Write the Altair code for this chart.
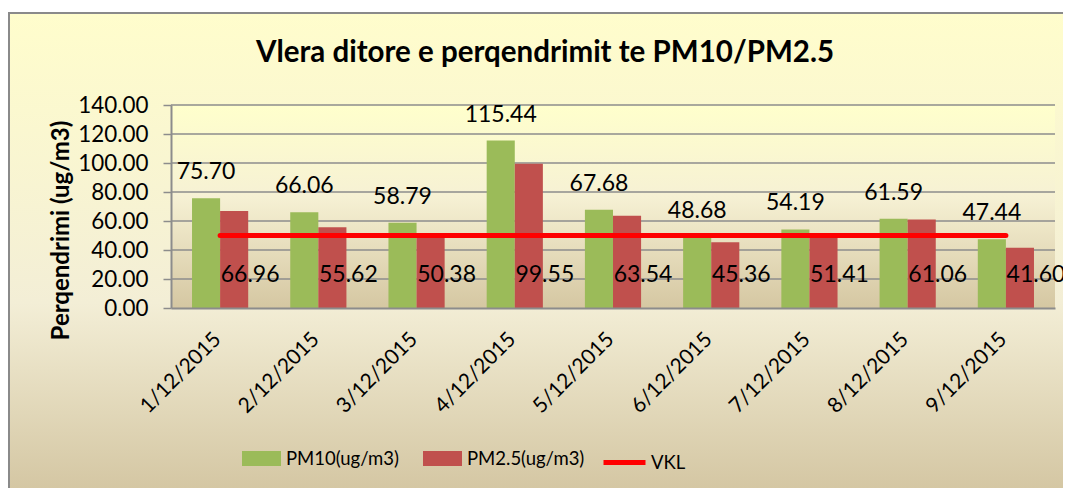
import altair as alt
import pandas as pd

dates = ["1/12/2015", "2/12/2015", "3/12/2015", "4/12/2015", "5/12/2015",
         "6/12/2015", "7/12/2015", "8/12/2015", "9/12/2015"]
pm10 = [75.70, 66.06, 58.79, 115.44, 67.68, 48.68, 54.19, 61.59, 47.44]
pm25 = [66.96, 55.62, 50.38, 99.55, 63.54, 45.36, 51.41, 61.06, 41.60]
vkl = [50, 50, 50, 50, 50, 50, 50, 50, 50]
series_names = ["PM10(ug/m3)", "PM2.5(ug/m3)"]
series_colors = ["#9BBB59", "#C0504D"]
grid_values = [20, 40, 60, 80, 100, 120, 140]
y_ticks = [0, 20, 40, 60, 80, 100, 120, 140]

FONT = "Lato"
W, H = 884, 203

df = pd.DataFrame({
    "date": dates * 2,
    "series": [series_names[0]] * len(dates) + [series_names[1]] * len(dates),
    "value": pm10 + pm25,
})
df10 = df[df.series == series_names[0]]
df25 = df[df.series == series_names[1]]
line_df = pd.DataFrame({"date": dates, "vkl": vkl, "lbl": ["VKL"] * len(dates)})
grid_df = pd.DataFrame({"v": grid_values})
one = pd.DataFrame({"a": [0]})

outer_grad = {"gradient": "linear", "x1": 0, "y1": 0, "x2": 0, "y2": 1,
              "stops": [{"offset": 0, "color": "#FFFDCC"},
                        {"offset": 0.6, "color": "#F3EED6"},
                        {"offset": 1, "color": "#D3C5A1"}]}
plot_grad = {"gradient": "linear", "x1": 0, "y1": 0, "x2": 0, "y2": 1,
             "stops": [{"offset": 0, "color": "#FFFFCC"},
                       {"offset": 0.45, "color": "#F6F1D4"},
                       {"offset": 1, "color": "#D5C7A2"}]}

outer_bg = alt.Chart(one).mark_rect(fill=outer_grad, stroke="#8A8A8A", strokeWidth=2).encode(
    x=alt.value(-162), x2=alt.value(960), y=alt.value(-92), y2=alt.value(392))
plot_bg = alt.Chart(one).mark_rect(fill=plot_grad).encode(
    x=alt.value(0), x2=alt.value(W), y=alt.value(0), y2=alt.value(H))

yscale = alt.Scale(domain=[0, 140], nice=False, zero=True)
xscale = alt.Scale(paddingInner=0.428, paddingOuter=0.214)

x_axis = alt.Axis(title=None, labelAngle=-45, labelAlign="right", labelBaseline="top",
                  labelFont=FONT, labelFontSize=21, labelColor="black", labelPadding=20,
                  labelOffset=-10, labelOverlap=False,
                  ticks=False, domainColor="#8C8C8C", domainWidth=2, grid=False, zindex=1)
y_axis = alt.Axis(title="Perqendrimi (ug/m3)", values=y_ticks, format=".2f",
                  labelFont=FONT, labelFontSize=22.4, labelColor="black", labelPadding=15,
                  labelOverlap=False, labelSeparation=0, labelBound=False,
                  tickSize=8, tickColor="#8C8C8C", tickWidth=1.5,
                  domainColor="#8C8C8C", domainWidth=2, grid=False, zindex=1,
                  titleFont=FONT, titleFontSize=24, titleFontWeight="bold", titleColor="black",
                  titleX=-110, titleY=125, titleAngle=-90, titleAlign="center", titleBaseline="middle")

grid = alt.Chart(grid_df).mark_rule(color="#8C8C8C", strokeWidth=1.5).encode(
    y=alt.Y("v:Q", scale=yscale, axis=y_axis))

bars = alt.Chart(df).mark_bar().encode(
    x=alt.X("date:N", sort=dates, scale=xscale, axis=x_axis),
    xOffset=alt.XOffset("series:N", sort=series_names),
    y=alt.Y("value:Q", scale=yscale, axis=y_axis),
    fill=alt.Fill("series:N", sort=series_names,
                  scale=alt.Scale(domain=series_names, range=series_colors),
                  legend=alt.Legend(orient="none", legendX=71, legendY=334, direction="horizontal",
                                    title=None, symbolType="M-1,-0.385H1V0.385H-1Z", symbolSize=1521,
                                    symbolStrokeWidth=0, symbolOpacity=1, labelFont=FONT,
                                    labelFontSize=18.5, labelColor="black", labelOffset=5,
                                    columnPadding=24, padding=0)),
)

line = alt.Chart(line_df).mark_line(strokeWidth=5, strokeCap="round").encode(
    x=alt.X("date:N", sort=dates, scale=xscale),
    y=alt.Y("vkl:Q", scale=yscale, axis=y_axis),
    stroke=alt.Stroke("lbl:N", scale=alt.Scale(domain=["VKL"], range=["#FF0000"]),
                      legend=alt.Legend(orient="none", legendX=430, legendY=334, title=None,
                                        symbolType="stroke", symbolSize=1764, symbolStrokeWidth=5,
                                        labelFont=FONT, labelFontSize=18.5, labelColor="black",
                                        labelOffset=3, padding=0)),
)

t10 = alt.Chart(df10).mark_text(font=FONT, fontSize=23, color="black", baseline="middle", dy=-26).encode(
    x=alt.X("date:N", sort=dates, scale=xscale),
    xOffset=alt.XOffset("series:N", sort=series_names),
    y=alt.Y("value:Q", scale=yscale, axis=y_axis),
    text=alt.Text("value:Q", format=".2f"),
)
t25 = alt.Chart(df25).transform_calculate(label_y="23").mark_text(
    font=FONT, fontSize=23, color="black", baseline="middle", dx=16).encode(
    x=alt.X("date:N", sort=dates, scale=xscale),
    xOffset=alt.XOffset("series:N", sort=series_names),
    y=alt.Y("label_y:Q", scale=yscale, axis=y_axis),
    text=alt.Text("value:Q", format=".2f"),
)

chart = alt.layer(outer_bg, plot_bg, grid, bars, line, t10, t25).properties(
    width=W, height=H,
    title=alt.TitleParams("Vlera ditore e perqendrimit te PM10/PM2.5", font=FONT, fontSize=29.5,
                          fontWeight="bold", color="black", anchor="middle", frame="group",
                          dx=-68, dy=79, offset=0, baseline="alphabetic"),
    autosize=alt.AutoSizeParams(type="none"),
    padding={"left": 163, "top": 97, "right": 8, "bottom": 180},
).configure_view(stroke=None).configure(background="white").configure_axisY(
    labelOverlap=False, labelSeparation=0)

chart.save("out.html", embed_options={"renderer": "svg", "actions": False})
